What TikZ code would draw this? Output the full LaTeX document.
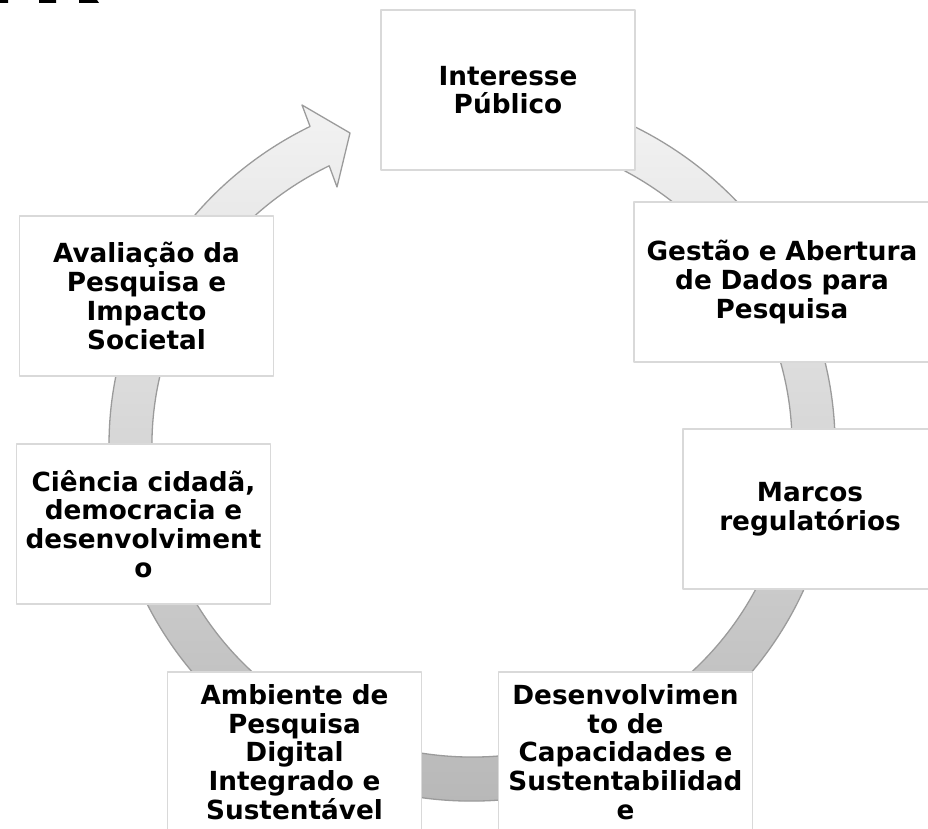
\documentclass[tikz,border=0pt]{standalone}
\usepackage{fontspec}
\setmainfont{DejaVu Sans}
\definecolor{ringtop}{RGB}{246,246,246}
\definecolor{ringbot}{RGB}{182,182,182}
\definecolor{ringline}{RGB}{155,155,155}
\definecolor{boxline}{RGB}{217,217,217}
\begin{document}
\begin{tikzpicture}[x=1pt,y=-1pt,line join=round,
	font=\bfseries\fontsize{26.3}{28.7}\selectfont,
	ring/.style={draw=ringline,line width=1.3pt,top color=ringtop,bottom color=ringbot},
	box/.style={draw=boxline,line width=1.8pt,fill=white,align=center,inner sep=0pt,
		minimum width=254,minimum height=160,text width=248}]
	\useasboundingbox (0,0) rectangle (928,829);
	\clip (0,0) rectangle (928,829);
	\path 
	(421.5,92.5) coordinate (T1)
	(329.2,165.8) coordinate (T2)
	(302,105) coordinate (Ho)
	(350,133) coordinate (Tip)
	(337,187) coordinate (Hi);
	% vong mui ten
	\draw[ring] (T1) arc[start angle=262, end angle=603.5, x radius=363, y radius=356]
		-- (Ho) -- (Tip) -- (Hi) -- (T2)
		arc[start angle=603.5, end angle=262, x radius=320, y radius=312] -- cycle;
	% cac o
	\node[box] (pub) at (508,90) {Interesse\\Público};
	\node[box,minimum width=296,text width=290] (dados) at (782,282) {Gestão e Abertura\\de Dados para\\Pesquisa};
	\node[box] (marcos) at (810,509) {Marcos\\regulatórios};
	\node[box] (capac) at (625.5,752) {Desenvolvimen\\to de\\Capacidades e\\Sustentabilidad\\e};
	\node[box] (amb) at (294.5,752) {Ambiente de\\Pesquisa\\Digital\\Integrado e\\Sustentável};
	\node[box] (cid) at (143.5,524) {Ciência cidadã,\\democracia e\\desenvolviment\\o};
	\node[box] (aval) at (146.5,296) {Avaliação da\\Pesquisa e\\Impacto\\Societal};
	% manh cat tren cung
	\fill (0,0) rectangle (8,3) (39,0) rectangle (56,3);
	\fill (79,0) -- (97,0) -- (99,3) -- (79,3) -- cycle;
\end{tikzpicture}
\end{document}
